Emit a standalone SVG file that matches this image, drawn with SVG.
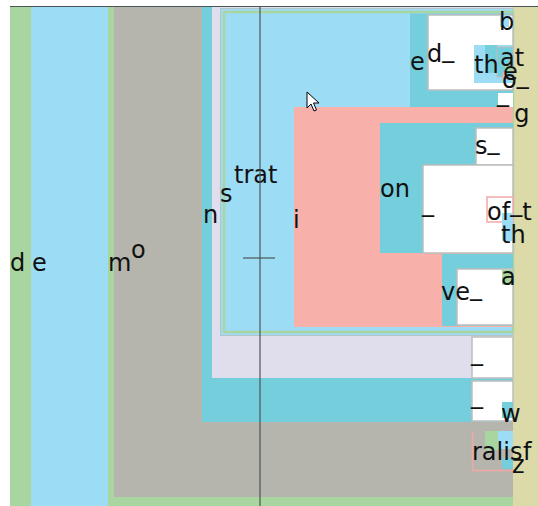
<svg xmlns="http://www.w3.org/2000/svg" width="538" height="506" viewBox="0 0 538 506">
<style>
.t{font-family:"DejaVu Sans",sans-serif;font-size:24px;fill:#111}
.g{fill:#a8d5a0}.lb{fill:#9ddcf5}.gr{fill:#b5b5ad}.tl{fill:#74cedb}.lv{fill:#e0deec}.sa{fill:#f7b0aa}.kh{fill:#dcdaa8}
.wb{fill:#fff;stroke:#bdbdbd;stroke-width:1.5}
.pb{fill:#fff;stroke:#f2a8a8;stroke-width:1.5}
.ln{stroke:#4a5656;stroke-width:1.2;fill:none}
</style>
<rect width="538" height="506" fill="#fff"/>
<g id="n-de">
<rect class="g" x="10" y="6" width="21" height="500"/>
<rect class="lb" x="31" y="6" width="77" height="500"/>
<text class="t" x="10" y="271">d</text>
<text class="t" x="32" y="271">e</text>
</g>
<g id="n-mo">
<rect class="g" x="108" y="6" width="405" height="500"/>
<rect class="gr" x="114" y="6" width="399" height="491"/>
<text class="t" x="108" y="271">m</text>
<text class="t" x="131" y="258">o</text>
</g>
<g id="n-right">
<rect class="kh" x="513" y="6" width="25" height="500"/>
</g>
<g id="n-n">
<rect class="tl" x="202" y="6" width="311" height="416"/>
<rect class="lv" x="212" y="7" width="301" height="371"/>
<text class="t" x="203" y="223">n</text>
</g>
<g id="n-strat">
<rect x="220.5" y="8.5" width="292.5" height="327" class="lb" stroke="#b8c0c8" stroke-width="1"/>
<rect x="224" y="12" width="289" height="320" fill="none" stroke="#a8d5a0" stroke-width="2.5"/>
<text class="t" x="220" y="202">s</text>
<text class="t" x="234" y="183">trat</text>
</g>
<g id="n-ed">
<rect class="tl" x="410" y="13.5" width="103" height="94"/>
<rect class="wb" x="428" y="15" width="85" height="75"/>
<rect class="lb" x="500" y="15" width="9" height="12"/>
<rect class="lb" x="474" y="45" width="39" height="38"/>
<rect class="tl" x="485" y="45" width="12" height="28"/>
<rect x="497" y="47" width="16" height="30" fill="#74cedb" stroke="#bdbdbd" stroke-width="1"/>
<rect class="g" x="505" y="65" width="8" height="7"/>
<rect class="sa" x="503" y="72" width="4" height="7"/>
<text class="t" x="410" y="70">e</text>
<text class="t" x="427" y="62">d<tspan dy="-5">_</tspan></text>
<text class="t" x="499" y="30">b</text>
<text class="t" x="474" y="73">th</text>
<text class="t" x="500" y="66">at</text>
<text class="t" x="503" y="80">e</text>
<text class="t" x="502" y="88">o<tspan dy="-5">_</tspan></text>
</g>
<g id="n-ng">
<rect x="498" y="93" width="15" height="14" fill="#fff"/>
<rect class="g" x="500" y="107" width="13" height="16"/>
<text class="t" x="497" y="101">_</text>
<text class="t" x="499" y="122">ng</text>
</g>
<g id="n-i">
<rect class="sa" x="294" y="107" width="219" height="220"/>
<text class="t" x="293" y="228">i</text>
</g>
<g id="n-on">
<rect class="tl" x="380" y="123" width="133" height="130"/>
<text class="t" x="380" y="197">on</text>
</g>
<g id="n-s">
<rect class="wb" x="476" y="128" width="37" height="37"/>
<text class="t" x="475" y="154">s<tspan dy="-5">_</tspan></text>
</g>
<g id="n-of">
<rect class="wb" x="423" y="165" width="90" height="88"/>
<rect class="pb" x="487" y="197" width="26" height="25"/>
<rect class="lb" x="502" y="213" width="11" height="28"/>
<text class="t" x="422" y="211">_</text>
<text class="t" x="487" y="220">of<tspan dy="-9">_</tspan><tspan dy="9">t</tspan></text>
<text class="t" x="501" y="243">th</text>
</g>
<g id="n-ve">
<rect class="tl" x="442" y="254" width="71" height="72"/>
<rect class="wb" x="457" y="269" width="56" height="56"/>
<rect class="g" x="502" y="270" width="11" height="15"/>
<text class="t" x="441" y="300">ve<tspan dy="-5">_</tspan></text>
<text class="t" x="501" y="285">a</text>
</g>
<g id="n-u1">
<rect class="wb" x="472" y="337" width="41" height="41"/>
<text class="t" x="471" y="360">_</text>
</g>
<g id="n-w">
<rect class="wb" x="472" y="381" width="41" height="40"/>
<rect class="tl" x="502" y="402" width="11" height="16"/>
<text class="t" x="471" y="403">_</text>
<text class="t" x="501" y="422">w</text>
</g>
<g id="n-ralis">
<path d="M472.5 431 V470.5 H513" fill="none" stroke="#f2a8a8" stroke-width="1.5"/>
<rect class="g" x="485" y="431" width="13" height="19"/>
<rect class="lb" x="498" y="431" width="15" height="18"/>
<rect class="tl" x="502" y="458" width="11" height="11"/>
<text class="t" x="472" y="460">ralis</text>
<text class="t" x="512" y="473">z</text>
<text class="t" x="523" y="460">f</text>
</g>
<g id="connectors">
<line class="ln" x1="10" y1="6.5" x2="538" y2="6.5" stroke="#7a7a7a"/>
<line class="ln" x1="260" y1="6" x2="260" y2="506"/>
<line class="ln" x1="243" y1="258" x2="275" y2="258"/>
</g>
<g id="cursor">
<path d="M307 92 V108 L311 104 L314 111 L316.5 110 L313.5 103 L319 103 Z" fill="#fff" stroke="#000" stroke-width="1"/>
</g>
</svg>
